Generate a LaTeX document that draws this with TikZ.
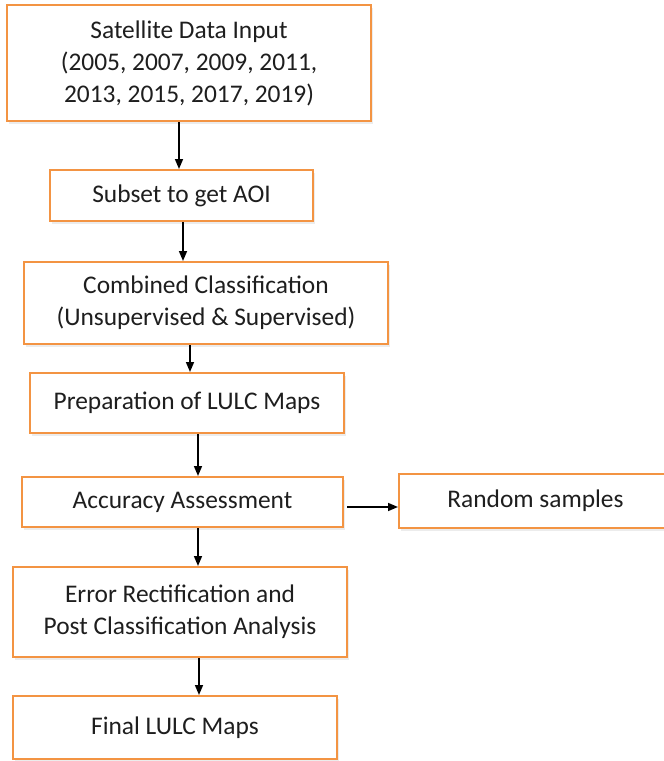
\documentclass[tikz,border=0pt]{standalone}
\usepackage{fontspec}
\setmainfont{Carlito}
\usetikzlibrary{arrows.meta,shadows}

\definecolor{boxorange}{HTML}{F39443}
\definecolor{txtgray}{HTML}{1E1E1E}

\tikzset{
  stage/.style={draw=boxorange, line width=2pt, fill=white, align=center,
    text=txtgray, font=\fontsize{25.4}{32}\selectfont, inner sep=0pt,
    drop shadow={shadow xshift=2pt, shadow yshift=-3pt, opacity=0.15}},
  flow/.style={line width=1.6pt, -{Triangle[length=10pt,width=8pt]}}
}

\begin{document}
\begin{tikzpicture}[x=1pt,y=-1pt]
\useasboundingbox (0,0) rectangle (664,761);

% processing steps
\node[stage, minimum width=364, minimum height=116] (sat) at (189,63)
  {Satellite Data Input\\(2005, 2007, 2009, 2011,\\2013, 2015, 2017, 2019)};
\node[stage, minimum width=263, minimum height=51] (aoi) at (181.5,195.5)
  {Subset to get AOI};
\node[stage, minimum width=364, minimum height=82] (comb) at (206,303)
  {Combined Classification\\(Unsupervised \& Supervised)};
\node[stage, minimum width=314, minimum height=60] (prep) at (187,403)
  {Preparation of LULC Maps};
\node[stage, minimum width=321, minimum height=50] (acc) at (182.5,502)
  {Accuracy Assessment};
\node[stage, minimum width=273, minimum height=54] (rand) at (535.5,501)
  {Random samples};
\node[stage, minimum width=334, minimum height=90] (err) at (180,612)
  {Error Rectification and\\Post Classification Analysis};
\node[stage, minimum width=324, minimum height=63] (final) at (175,727.5)
  {Final LULC Maps};

% where the arrows run
\coordinate (a1) at (179,0);
\coordinate (a2) at (183,0);
\coordinate (a3) at (190,0);
\coordinate (a4) at (198,0);
\coordinate (a5) at (198,0);
\coordinate (a6) at (199,0);
\coordinate (h1) at (0,507);

\draw[flow] (sat.south -| a1) -- (aoi.north -| a1);
\draw[flow] (aoi.south -| a2) -- (comb.north -| a2);
\draw[flow] (comb.south -| a3) -- (prep.north -| a3);
\draw[flow] (prep.south -| a4) -- (acc.north -| a4);
\draw[flow] (acc.south -| a5) -- (err.north -| a5);
\draw[flow] (err.south -| a6) -- (final.north -| a6);
\draw[flow, shorten <=3pt] (acc.east |- h1) -- (rand.west |- h1);
\end{tikzpicture}
\end{document}
